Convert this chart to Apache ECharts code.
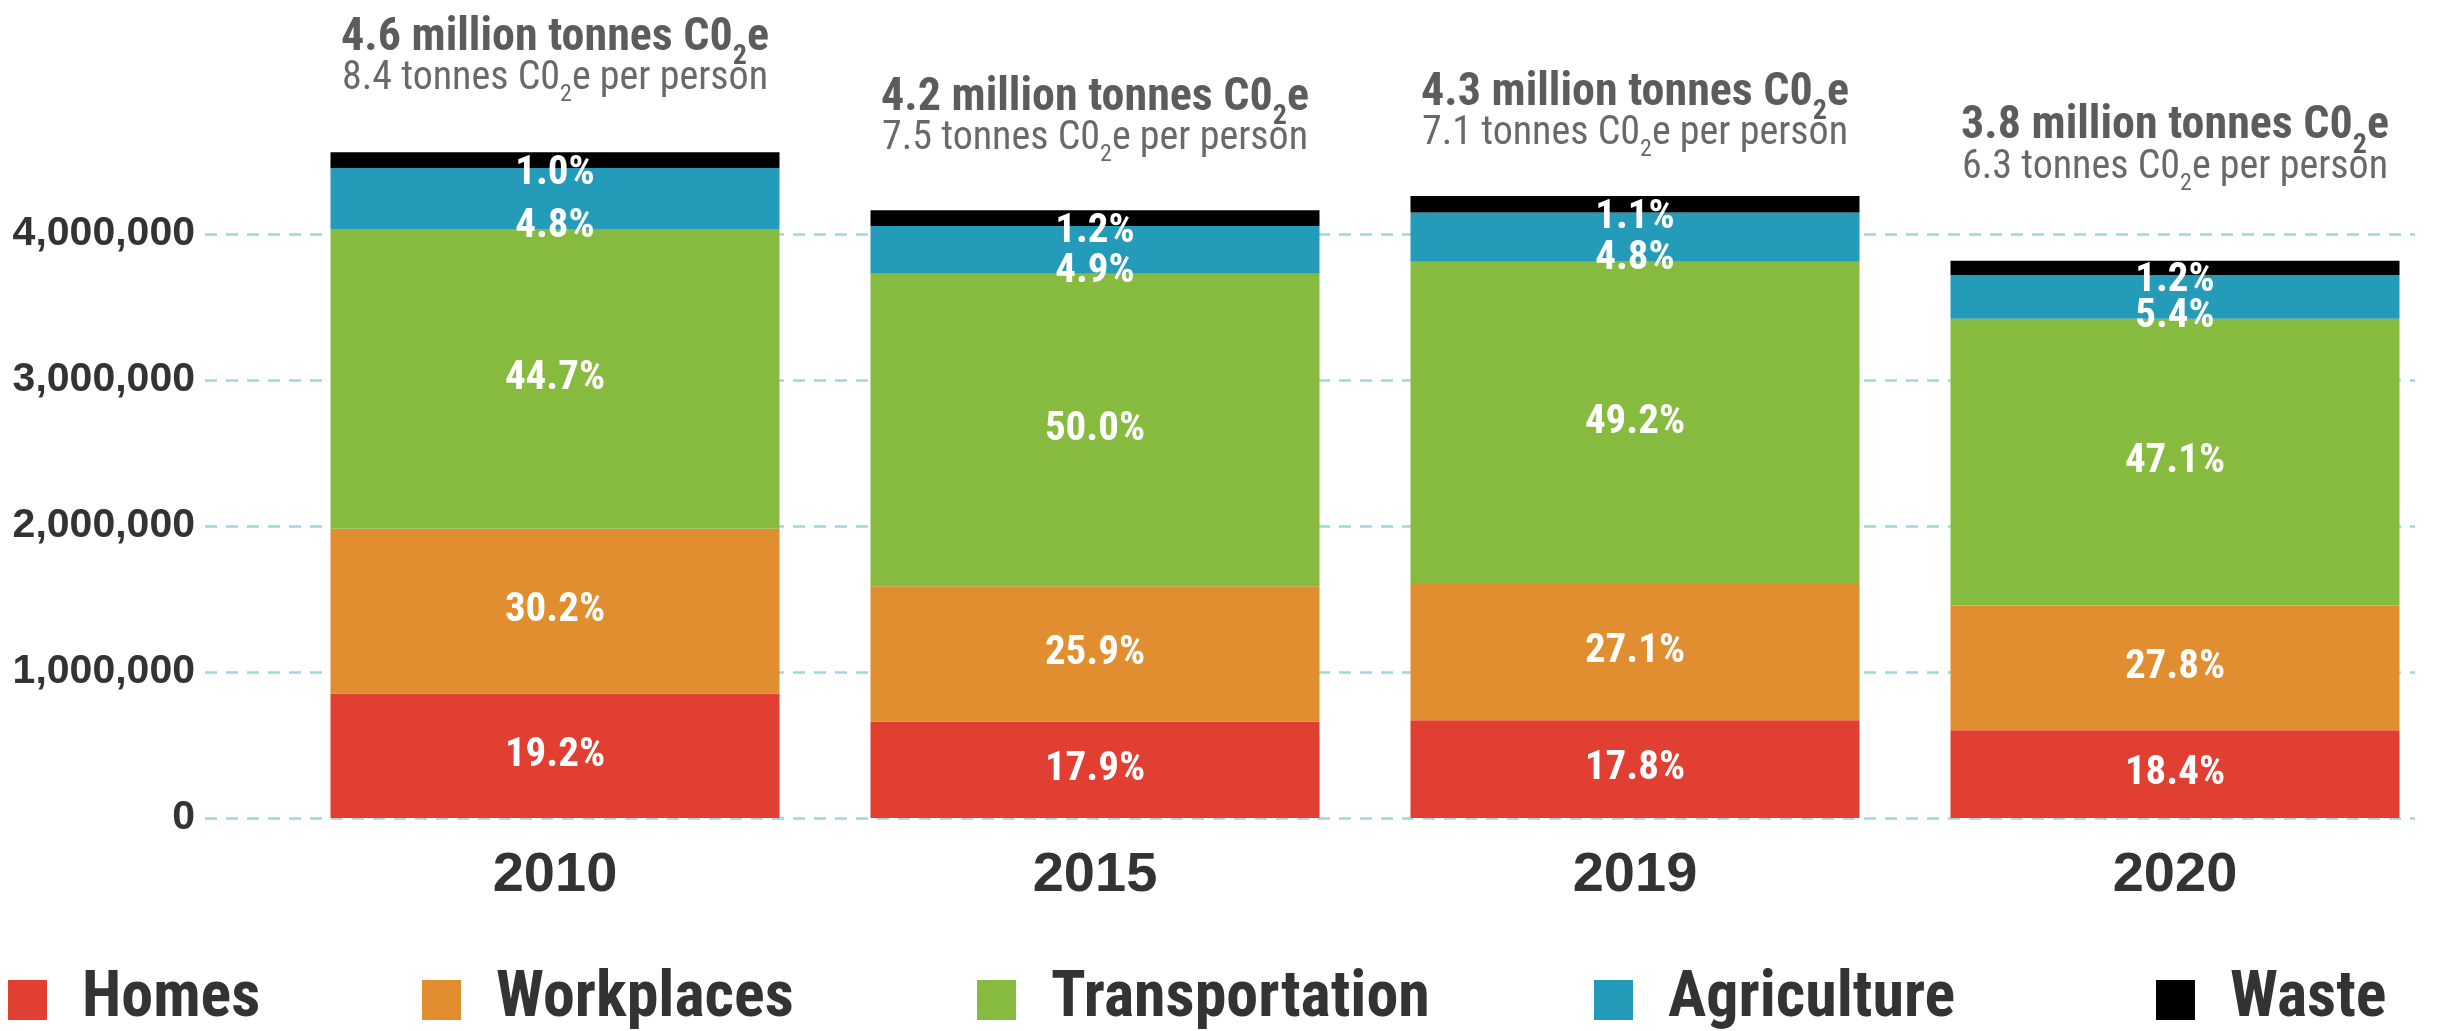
<!DOCTYPE html>
<html>
<head>
<meta charset="utf-8">
<script src="https://cdn.jsdelivr.net/npm/echarts/dist/echarts.min.js"></script>
<style>
html, body { margin: 0; padding: 0; background: #fff; }
#container { width: 2445px; height: 1031px; }
</style>
</head>
<body>
<div id="container"></div>
<script>
var years = ['2010', '2015', '2019', '2020'];

// tonnes CO2e
var homes = [853000, 661000, 669000, 600000];
var workplaces = [1127000, 925000, 939000, 855000];
var transportation = [2051000, 2139000, 2200000, 1962000];
var agriculture = [418000, 327000, 336000, 300000];
var waste = [107000, 107000, 113000, 97000];

// printed share labels
var homesPct = ['19.2%', '17.9%', '17.8%', '18.4%'];
var workplacesPct = ['30.2%', '25.9%', '27.1%', '27.8%'];
var transportationPct = ['44.7%', '50.0%', '49.2%', '47.1%'];
var agriculturePct = ['4.8%', '4.9%', '4.8%', '5.4%'];
var wastePct = ['1.0%', '1.2%', '1.1%', '1.2%'];

var totalMillions = ['4.6', '4.2', '4.3', '3.8'];
var perPerson = ['8.4', '7.5', '7.1', '6.3'];

var yTicks = [0, 1000000, 2000000, 3000000, 4000000];

var dom = document.getElementById('container');
var myChart = echarts.init(dom);
var option;

var NARROW = '"Liberation Sans Narrow", "Roboto Condensed", sans-serif';
var TEXT = '#333333';

var colors = {
    Homes: '#E23F33',
    Workplaces: '#E18E30',
    Transportation: '#87BB40',
    Agriculture: '#259BBA',
    Waste: '#000000'
};

function pctLabel(arr, extra) {
    var l = {
        show: true,
        color: '#fff',
        fontFamily: NARROW,
        fontWeight: 'bold',
        fontSize: 41,
        formatter: function (p) { return arr[p.dataIndex]; }
    };
    for (var k in extra) l[k] = extra[k];
    return l;
}

function barSeries(name, data, label) {
    return {
        name: name,
        type: 'bar',
        stack: 'total',
        xAxisIndex: 1,
        yAxisIndex: 1,
        barWidth: 449,
        itemStyle: { color: colors[name] },
        label: label,
        emphasis: { disabled: true },
        data: data
    };
}

// headline sits at a slightly different height above each bar
var headGap = [49, 47, 38, 69];
var tops = [];
for (var i = 0; i < years.length; i++) {
    tops.push({
        value: homes[i] + workplaces[i] + transportation[i] + agriculture[i] + waste[i],
        label: { distance: headGap[i] }
    });
}

var names = ['Homes', 'Workplaces', 'Transportation', 'Agriculture', 'Waste'];
var legendLeft = [8, 422, 977, 1594, 2156];

option = {
    animation: false,
    backgroundColor: '#fff',
    grid: [
        { left: 205, right: 30, top: 234, bottom: 213 },
        { left: 285, width: 2184, top: 87.5, bottom: 213 }
    ],
    legend: names.map(function (n, i) {
        return {
            data: [n],
            left: legendLeft[i],
            top: 968,
            padding: 0,
            icon: 'rect',
            itemWidth: 39,
            itemHeight: 40,
            selectedMode: false,
            textStyle: {
                color: TEXT,
                fontFamily: NARROW,
                fontWeight: 'bold',
                fontSize: 64,
                padding: [0, 0, 0, 30]
            }
        };
    }),
    xAxis: [
        { gridIndex: 0, type: 'category', data: years, show: false },
        {
            gridIndex: 1,
            type: 'category',
            data: years,
            axisLine: { show: false },
            axisTick: { show: false },
            axisLabel: {
                margin: 30,
                color: TEXT,
                fontFamily: '"Liberation Sans", Arial, sans-serif',
                fontWeight: 'bold',
                fontSize: 56
            }
        }
    ],
    yAxis: [
        {
            gridIndex: 0,
            type: 'value',
            min: yTicks[0],
            max: yTicks[yTicks.length - 1],
            interval: yTicks[1] - yTicks[0],
            axisLine: { show: false },
            axisTick: { show: false },
            axisLabel: {
                margin: 10,
                color: TEXT,
                fontFamily: '"Liberation Sans", Arial, sans-serif',
                fontWeight: 'bold',
                fontSize: 41,
                formatter: function (v) { return v.toLocaleString('en-US'); }
            },
            splitLine: {
                lineStyle: { color: '#9FD6E0', width: 2.5, type: [12, 9] }
            }
        },
        { gridIndex: 1, type: 'value', min: 0, max: 5000000, show: false }
    ],
    series: [
        barSeries('Homes', homes, pctLabel(homesPct, { position: 'inside' })),
        barSeries('Workplaces', workplaces, pctLabel(workplacesPct, { position: 'inside' })),
        barSeries('Transportation', transportation, pctLabel(transportationPct, { position: 'inside' })),
        barSeries('Agriculture', agriculture, pctLabel(agriculturePct, { position: 'bottom', distance: -23 })),
        barSeries('Waste', waste, pctLabel(wastePct, { position: 'bottom', distance: -15 })),
        {
            name: 'totals',
            type: 'scatter',
            xAxisIndex: 1,
            yAxisIndex: 1,
            symbolSize: 0,
            silent: true,
            z: 10,
            data: tops,
            label: {
                show: true,
                position: 'top',
                align: 'center',
                formatter: function (p) {
                    var i = p.dataIndex;
                    return '{t|' + totalMillions[i] + ' million tonnes C0}{ts|2}{t|e}\n' +
                        '{s|' + perPerson[i] + ' tonnes C0}{ss|2}{s|e per person}';
                },
                rich: {
                    t: { fontFamily: NARROW, fontWeight: 'bold', fontSize: 46, lineHeight: 44, color: TEXT, verticalAlign: 'top' },
                    ts: { fontFamily: NARROW, fontWeight: 'bold', fontSize: 28, lineHeight: 26, padding: [28, 0, 0, 0], color: TEXT, verticalAlign: 'top' },
                    s: { fontFamily: NARROW, fontSize: 40, lineHeight: 44, color: '#444', verticalAlign: 'top' },
                    ss: { fontFamily: NARROW, fontSize: 24, lineHeight: 24, padding: [24, 0, 0, 0], color: '#444', verticalAlign: 'top' }
                }
            }
        }
    ]
};

if (option && typeof option === 'object') {
    myChart.setOption(option);
}
</script>
</body>
</html>
